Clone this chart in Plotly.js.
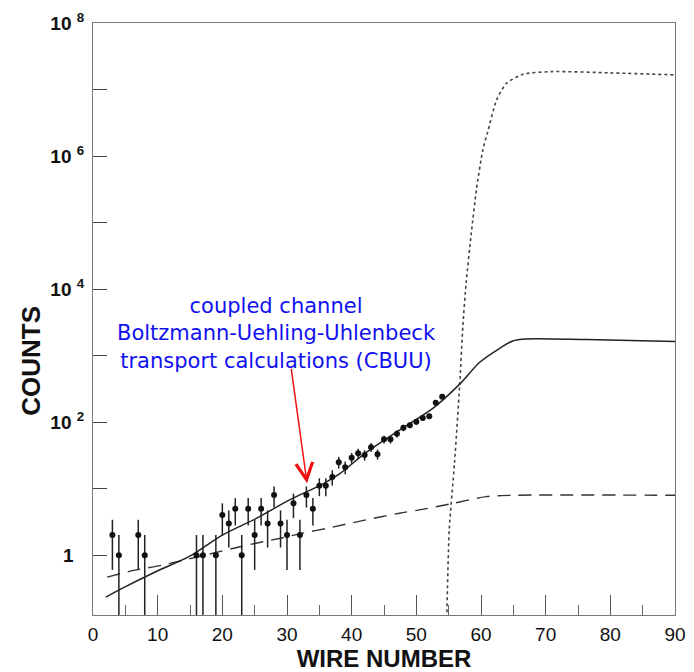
<!DOCTYPE html>
<html>
<head>
<meta charset="utf-8">
<script src="https://cdn.plot.ly/plotly-3.0.1.min.js"></script>
<style>html,body{margin:0;padding:0;background:#fff;}</style>
</head>
<body>
<div id="chart" style="width:694px;height:672px;"></div>
<script>
// Measured data (wire number, counts, error)
const wire = [3,4,7,8,16,17,19,20,21,22,23,24,25,26,27,28,29,30,31,32,33,34,35,36,37,38,39,40,41,42,43,44,45,46,47,48,49,50,51,52,53,54];
const counts = [2,1,2,1,1,1,1,4,3,5,1,5,2,5,3,8,3,2,6,2,8,5,11,11,15,25,21,29,34,32,42,33,55,55,67,82,90,101,115,122,195,240];
const countErr = [1.4,1,1.4,1,1,1,1,2,1.7,2.2,1,2.2,1.4,2.2,1.7,2.8,1.7,1.4,2.4,1.4,2.8,2.2,3.3,3.3,3.9,5,4.6,5.4,5.8,5.7,6.5,5.7,7.4,7.4,8.2,9,9.5,10,10.7,11,14,15.5];

// CBUU calculation (solid)
const cbuuX = [2,4.5,9.7,14.9,20,25.2,30.4,35.5,38.1,42.2,47.4,52.6,56.7,59.8,62.9,64.9,67,76.3,90];
const cbuuY = [0.234,0.316,0.562,0.955,2.0,3.55,6.76,11.7,16.6,34.7,75.9,162,372,794,1288,1660,1778,1738,1622];

// dashed curve
const dashX = [2.2,6.3,10.7,21.6,25.2,28.8,32.4,36,42.2,47.4,50.5,55.3,60.8,64.9,90];
const dashY = [0.468,0.589,0.708,1.26,1.51,1.78,2.14,2.51,3.39,4.27,4.79,5.89,7.59,7.94,7.94];

// dotted curve
const dotX = [54.7,55.1,55.9,56.7,57.2,57.7,58.5,59.3,60.3,61,62.4,63.9,66.5,71,80,90];
const dotY = [0.112,2.51,24,355,2818,12300,69200,316000,1.26e6,2.24e6,6.92e6,1.23e7,1.70e7,1.86e7,1.78e7,1.66e7];

// tick labels
const xTickVals = [0,10,20,30,40,50,60,70,80,90];
const xTickText = ['0','10','20','30','40','50','60','70','80','90'];
const yTickVals = [1,10,100,1e3,1e4,1e5,1e6,1e7,1e8];
const yTickText = ['1\u00a0\u00a0','','10 <sup>2</sup>','','10 <sup>4</sup>','','10 <sup>6</sup>','','10 <sup>8</sup>'];

const noteText = ['coupled channel','Boltzmann-Uehling-Uhlenbeck','transport calculations (CBUU)'];

const traces = [
  {x: dotX, y: dotY, mode:'lines', line:{color:'#444', width:1.6, dash:'dot', shape:'spline', smoothing:0.6}, hoverinfo:'skip'},
  {x: dashX, y: dashY, mode:'lines', line:{color:'#333', width:1.4, dash:'13px,8px', shape:'spline', smoothing:0.8}, hoverinfo:'skip'},
  {x: cbuuX, y: cbuuY, mode:'lines', line:{color:'#222', width:1.5, shape:'spline', smoothing:0.8}, hoverinfo:'skip'},
  {x: wire, y: counts, mode:'markers', marker:{color:'#111', size:6},
   error_y:{type:'data', array: countErr, visible:true, color:'#222', thickness:1.5, width:0}}
];

const layout = {
  width: 694, height: 672,
  margin: {l:93, r:19, t:23, b:57},
  paper_bgcolor:'#fff', plot_bgcolor:'#fff',
  showlegend:false,
  xaxis: {
    range:[0,90], showgrid:false, zeroline:false,
    showline:true, linecolor:'#777', linewidth:1, mirror:true,
    tickmode:'array', tickvals:xTickVals, ticktext:xTickText,
    ticks:'inside', ticklen:20, tickcolor:'#555', tickwidth:1,
    minor:{dtick:5, tick0:0, ticks:'inside', ticklen:10, tickcolor:'#666', tickwidth:1, showgrid:false},
    ticklabelstandoff: 2,
    tickfont:{family:'Liberation Sans, Arial, sans-serif', size:19, color:'#111'},
    title:{text:'WIRE NUMBER', font:{family:'Liberation Sans, Arial, sans-serif', size:24, weight:'bold', color:'#111'}, standoff:14}
  },
  yaxis: {
    type:'log', range:[-0.9, 8], showgrid:false, zeroline:false,
    showline:true, linecolor:'#777', linewidth:1, mirror:true,
    tickmode:'array', tickvals:yTickVals, ticktext:yTickText,
    ticks:'inside', ticklen:14, tickcolor:'#444', tickwidth:1,
    ticklabelstandoff: 4,
    tickfont:{family:'Liberation Sans, Arial, sans-serif', size:19, weight:'bold', color:'#111'}
  },
  annotations: [
    {xref:'paper', yref:'paper', x:-0.106, y:0.43, text:'COUNTS', textangle:-90, showarrow:false,
     font:{family:'Liberation Sans, Arial, sans-serif', size:26, weight:'bold', color:'#111'}, xanchor:'center', yanchor:'middle'},
    {xref:'paper', yref:'paper', x:0.316, y:0.476, text: noteText.join('<br>'), showarrow:false,
     font:{family:'DejaVu Sans, Verdana, sans-serif', size:21, color:'#1010f0'}, xanchor:'center', yanchor:'middle'},
    {xref:'x', yref:'y', x:33.1, y:1.08, text:'', showarrow:true, ax:-16, ay:-116,
     arrowhead:5, arrowsize:2.2, arrowwidth:1.5, arrowcolor:'#ee1111'}
  ]
};

Plotly.newPlot('chart', traces, layout, {staticPlot:true, displayModeBar:false});
</script>
</body>
</html>
